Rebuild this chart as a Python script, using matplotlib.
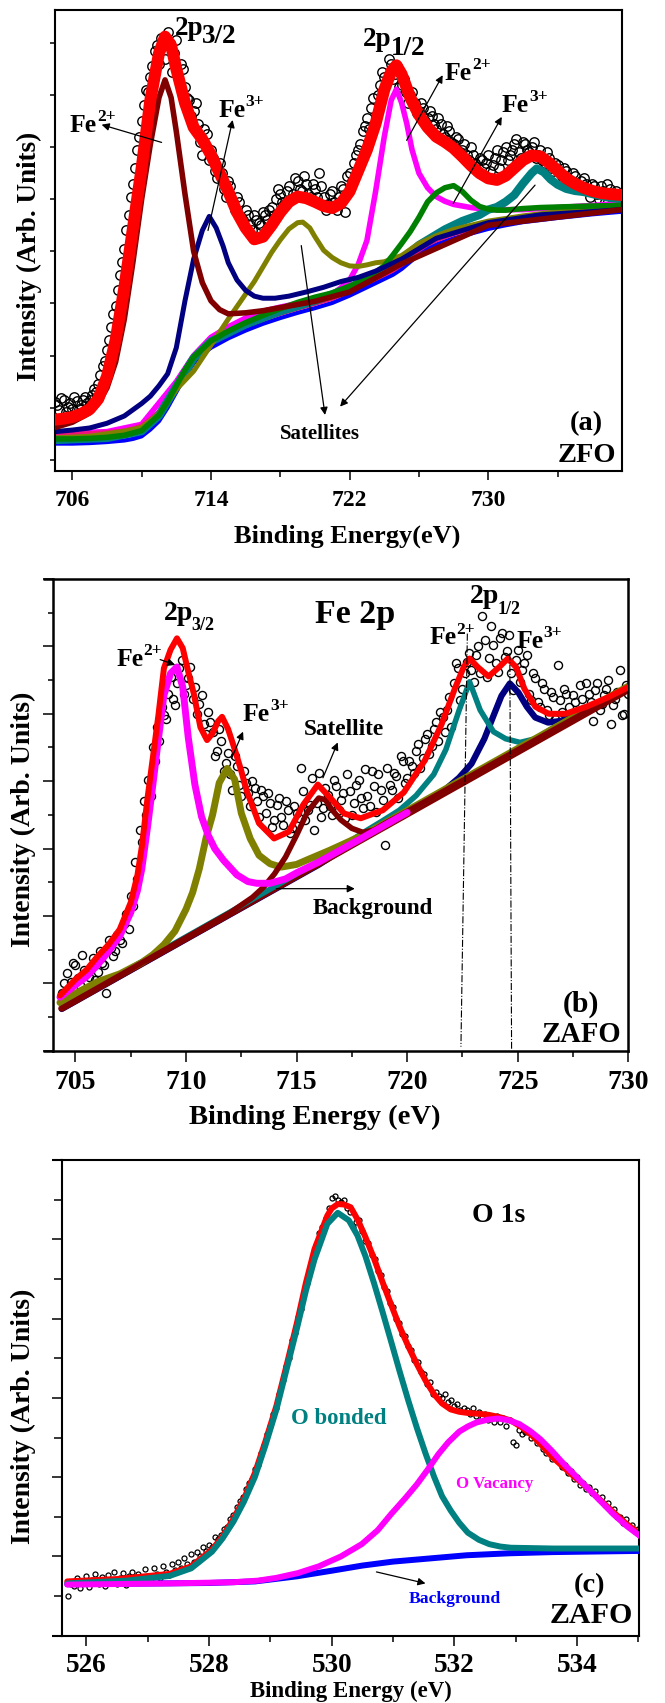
import numpy as np
import matplotlib
matplotlib.use("Agg")
import matplotlib.pyplot as plt

plt.rcParams["font.family"] = ["Liberation Serif", "DejaVu Serif"]
plt.rcParams["font.weight"] = "bold"

RED, MAROON, NAVY, OLIVE = "#ff0000", "#800000", "#000080", "#808000"
MAGENTA, GREEN, TEAL, BLUE, PINK = "#ff00ff", "#008000", "#008080", "#0000ff", "#f0147a"

# ---------------- (a) ZFO, Fe 2p ----------------
# measured points, two interleaved sweeps
a_pts_y = [1.10, 0.95, 1.15, 1.02, 0.98, 1.12, 1.05, 1.20, 1.15, 1.35,
           1.45, 1.80, 2.10, 2.55, 2.95, 3.55, 4.05, 4.70, 5.30, 5.95,
           6.50, 7.10, 7.35, 7.85, 7.60, 7.95, 8.20, 7.45, 8.05, 7.60,
           7.15, 6.90, 6.70, 6.45, 5.85, 6.25, 5.95, 5.55, 5.70, 5.20,
           5.35, 4.95, 5.05, 4.65, 4.80, 4.50, 4.70, 4.55, 4.75, 4.60,
           4.85, 5.00, 5.10, 4.90, 5.25, 5.10, 5.35, 5.15, 5.30, 5.05,
           5.20, 5.50, 5.05, 4.90, 5.15, 4.80, 5.25, 4.75, 5.50, 5.70,
           5.95, 6.30, 6.55, 6.75, 6.60, 7.20, 7.35, 7.70, 7.30, 7.55,
           7.20, 7.05, 7.00, 6.85, 6.70, 6.75, 6.55, 6.60, 6.35, 6.45,
           6.20, 6.30, 6.05, 6.15, 5.95, 5.85, 6.00, 5.70, 5.80, 5.60,
           5.85, 5.65, 5.95, 5.75, 6.00, 5.85, 6.05, 5.90, 6.10, 5.95,
           6.00, 5.80, 5.95, 5.70, 5.80, 5.55, 5.65, 5.45, 5.55, 5.35,
           5.45, 5.25, 5.40, 5.15, 5.30, 5.10, 5.25, 4.95, 5.20, 4.85,
           5.05]
a_pts2_y = [1.05, 1.18, 0.92, 1.08, 1.20, 0.98, 1.15, 1.08, 1.25, 1.30,
            1.62, 1.90, 2.30, 2.80, 3.25, 3.80, 4.40, 5.05, 5.60, 6.20,
            6.80, 7.05, 7.55, 7.95, 8.10, 7.70, 8.00, 7.80, 7.35, 7.50,
            6.95, 6.60, 6.85, 6.10, 6.35, 5.75, 5.80, 5.40, 5.50, 5.05,
            5.25, 4.80, 4.95, 4.60, 4.70, 4.40, 4.60, 4.50, 4.70, 4.80,
            4.70, 5.20, 4.95, 5.15, 5.00, 5.40, 5.20, 5.45, 5.10, 5.30,
            5.05, 5.25, 4.80, 5.10, 4.95, 5.05, 5.20, 5.45, 5.35, 5.85,
            6.05, 6.40, 6.35, 6.95, 7.00, 7.45, 7.25, 7.60, 7.40, 7.15,
            7.30, 6.85, 7.05, 6.65, 6.85, 6.50, 6.70, 6.45, 6.55, 6.25,
            6.40, 6.10, 6.20, 5.90, 6.05, 5.75, 5.85, 5.55, 5.75, 5.70,
            5.55, 5.80, 5.60, 5.90, 5.75, 5.95, 6.15, 5.80, 6.05, 5.90,
            6.10, 5.85, 5.75, 5.90, 5.60, 5.70, 5.50, 5.60, 5.30, 5.50,
            5.20, 5.35, 5.30, 5.05, 5.25, 5.00, 5.15, 5.30, 4.90, 5.15]

a_fit_x = [705, 705.5, 706, 706.5, 707, 707.5, 708, 708.5, 709, 709.5, 710, 710.5, 711,
           711.35, 711.7, 712, 712.5, 713, 713.5, 714, 714.5, 715, 715.5, 716, 716.5,
           717, 717.5, 718, 718.5, 719, 719.5, 720, 720.5, 721, 721.5, 722, 722.5,
           723, 723.5, 724, 724.4, 724.7, 725, 725.5, 726, 726.5, 727, 727.5, 728,
           728.5, 729, 729.5, 730, 730.5, 731, 731.5, 732, 732.5, 733, 733.5, 734,
           734.5, 735, 735.5, 736, 736.5, 737, 737.7]
a_fit_y = [0.77, 0.79, 0.82, 0.88, 0.97, 1.17, 1.60, 2.30, 3.30, 4.45, 5.60, 6.90, 7.80,
           8.12, 7.95, 7.50, 6.85, 6.38, 6.15, 5.85, 5.50, 5.15, 4.75, 4.45, 4.23,
           4.28, 4.50, 4.75, 4.95, 5.05, 5.02, 4.95, 4.87, 4.83, 4.92, 5.15, 5.55,
           5.95, 6.45, 7.10, 7.45, 7.57, 7.40, 6.95, 6.62, 6.38, 6.20, 6.10, 5.98,
           5.82, 5.65, 5.50, 5.40, 5.37, 5.45, 5.60, 5.75, 5.84, 5.82, 5.70, 5.55,
           5.40, 5.30, 5.22, 5.16, 5.12, 5.10, 5.08]

a_bg_x = [705, 706, 707, 708, 709, 709.5, 710, 710.5, 711, 711.5, 712, 712.5, 713, 713.5,
          714, 715, 716, 717, 718, 719, 720, 721, 722, 723, 724, 724.5, 725, 725.5,
          726, 726.5, 727, 728, 729, 730, 731, 732, 734, 736, 737.7]
a_bg_y = [0.31, 0.31, 0.32, 0.34, 0.37, 0.40, 0.45, 0.58, 0.74, 1.00, 1.30, 1.60, 1.85, 2.02,
          2.15, 2.33, 2.48, 2.61, 2.72, 2.82, 2.91, 3.01, 3.15, 3.31, 3.47, 3.55, 3.66, 3.80,
          3.94, 4.05, 4.13, 4.25, 4.34, 4.43, 4.50, 4.56, 4.64, 4.71, 4.76]
a_pink_y = [0.50, 0.50, 0.51, 0.53, 0.56, 0.60, 0.66, 0.78, 0.93, 1.17, 1.45, 1.74, 1.98, 2.14,
            2.26, 2.43, 2.57, 2.69, 2.80, 2.90, 2.99, 3.09, 3.23, 3.39, 3.55, 3.63, 3.74, 3.88,
            4.02, 4.13, 4.21, 4.33, 4.42, 4.51, 4.58, 4.64, 4.72, 4.79, 4.84]

a_green_x = [705, 706, 707, 708, 709, 710, 711, 711.5, 712, 712.5, 713, 714, 715, 716, 717,
             718, 719, 720, 721, 722, 722.5, 723, 723.5, 724, 724.5, 725, 725.5, 726, 726.5,
             727, 727.5, 728, 728.5, 729, 729.5, 730, 730.5, 731, 732, 733, 734, 735, 736, 737.7]
a_green_y = [0.40, 0.40, 0.41, 0.43, 0.47, 0.56, 0.86, 1.12, 1.42, 1.72, 1.97, 2.28, 2.47, 2.63,
             2.77, 2.90, 3.02, 3.12, 3.20, 3.33, 3.40, 3.50, 3.60, 3.72, 3.93, 4.15, 4.38, 4.65,
             4.95, 5.12, 5.22, 5.26, 5.15, 4.98, 4.86, 4.81, 4.79, 4.79, 4.82, 4.84, 4.85, 4.86,
             4.87, 4.88]

a_teal_x = [705, 708, 710, 711, 712, 713, 714, 716, 718, 720, 722, 724, 725, 726, 727, 727.5,
            728, 728.5, 729, 729.5, 730, 730.5, 731, 731.5, 732, 732.5, 732.8, 733.2, 733.6,
            734, 734.5, 735, 735.5, 736, 737, 737.7]
a_teal_y = [0.38, 0.42, 0.55, 0.85, 1.40, 1.95, 2.27, 2.60, 2.85, 3.05, 3.30, 3.65, 3.85, 4.12,
            4.32, 4.42, 4.50, 4.58, 4.64, 4.70, 4.80, 4.85, 4.95, 5.08, 5.30, 5.50, 5.59, 5.52,
            5.38, 5.28, 5.20, 5.16, 5.14, 5.10, 5.03, 5.00]

a_olive_x = [705, 707, 709, 710, 711, 712, 713, 714, 715, 716, 716.5, 717, 717.5, 718, 718.5,
             719, 719.3, 719.7, 720, 720.5, 721, 721.5, 722, 722.5, 723, 723.5, 724, 725, 726,
             727, 728, 730, 732, 734, 736, 737.7]
a_olive_y = [0.42, 0.45, 0.55, 0.62, 0.88, 1.35, 1.70, 2.20, 2.70, 3.18, 3.42, 3.70, 3.98, 4.22,
             4.43, 4.55, 4.56, 4.45, 4.28, 4.02, 3.88, 3.78, 3.72, 3.71, 3.74, 3.78, 3.80, 3.92,
             4.15, 4.30, 4.42, 4.58, 4.68, 4.76, 4.82, 4.86]

a_navy_x = [705, 706, 707, 708, 709, 710, 710.5, 711, 711.5, 712, 712.5, 713, 713.5, 713.9,
            714.3, 714.7, 715, 715.5, 716, 716.5, 717, 717.7, 718.5, 719.5, 720.5, 721.5,
            722.5, 723.5, 725, 727, 730, 733, 737.7]
a_navy_y = [0.54, 0.57, 0.61, 0.70, 0.84, 1.08, 1.22, 1.42, 1.65, 2.15, 3.05, 3.85, 4.40, 4.67,
            4.45, 4.10, 3.78, 3.45, 3.25, 3.14, 3.10, 3.10, 3.14, 3.22, 3.31, 3.42, 3.50, 3.62,
            3.85, 4.25, 4.55, 4.70, 4.80]

a_brown_x = [705, 706, 707, 707.5, 708, 708.5, 709, 709.5, 710, 710.5, 711, 711.35, 711.7,
             712, 712.5, 713, 713.5, 714, 714.5, 715, 716, 717, 718, 720, 722, 725, 730, 737.7]
a_brown_y = [0.62, 0.72, 0.90, 1.08, 1.38, 1.88, 2.70, 3.80, 5.00, 6.05, 6.95, 7.29, 6.95,
             6.30, 5.10, 4.00, 3.40, 3.05, 2.88, 2.80, 2.82, 2.86, 2.92, 3.04, 3.22, 3.76,
             4.50, 4.80]

a_mag_x = [705, 708, 710, 712, 713, 714, 715, 716, 717, 718, 719, 720, 720.5, 721, 721.5, 722,
           722.5, 723, 723.5, 724, 724.4, 724.7, 725, 725.3, 725.6, 726, 726.5, 727, 727.5,
           728, 729, 730, 732, 734, 736, 737.7]
a_mag_y = [0.50, 0.54, 0.68, 1.50, 2.00, 2.35, 2.55, 2.72, 2.85, 2.93, 3.00, 3.08, 3.13, 3.18,
           3.30, 3.45, 3.75, 4.21, 5.15, 6.20, 6.90, 7.11, 6.85, 6.45, 5.95, 5.50, 5.22, 5.05,
           4.96, 4.90, 4.84, 4.80, 4.80, 4.84, 4.88, 4.92]

# ---------------- (b) ZAFO, Fe 2p ----------------
b_pts_y = [1.70, 2.30, 2.05, 2.55, 1.95, 2.40, 2.20, 2.75, 2.35, 2.60,
           1.70, 3.05, 2.95, 3.30, 3.75, 3.60, 4.30, 5.10, 6.20, 7.00,
           7.55, 8.60, 9.20, 9.95, 10.60, 10.45, 10.90, 11.60, 10.85, 11.40,
           10.80, 10.30, 9.70, 10.05, 9.45, 8.90, 9.20, 8.55, 8.20, 8.75,
           7.90, 8.30, 7.65, 8.00, 7.40, 7.75, 7.05, 7.35, 6.85, 7.50,
           6.70, 7.15, 6.60, 7.05, 8.40, 6.85, 7.30, 6.55, 8.25, 7.20,
           7.60, 7.00, 7.85, 7.45, 6.90, 7.70, 7.35, 8.05, 7.20, 7.55,
           8.30, 7.10, 7.75, 6.10, 7.90, 8.25, 7.50, 8.60, 8.10, 8.45,
           8.90, 8.40, 9.25, 8.80, 9.55, 9.20, 9.90, 10.10, 9.60, 11.50,
           10.40, 11.20, 11.80, 10.95, 12.00, 12.90, 11.10, 12.60, 11.50, 12.25,
           11.70, 12.35, 10.70, 11.90, 11.30, 11.75, 10.40, 11.05, 10.20, 10.75,
           9.95, 10.50, 11.45, 10.05, 10.60, 9.90, 10.35, 10.85, 10.15, 10.60,
           9.80, 10.90, 10.30, 10.75, 9.70, 10.45, 11.30, 10.00, 10.60]
b_pts2_y = [2.00, 1.85, 2.60, 2.15, 2.85, 2.30, 2.50, 2.10, 2.95, 2.55,
            3.30, 2.80, 3.45, 3.20, 4.05, 4.60, 5.60, 6.55, 7.40, 8.05,
            9.00, 9.60, 10.20, 9.85, 11.10, 10.25, 11.35, 10.60, 11.05, 10.45,
            10.00, 10.55, 9.40, 9.75, 8.75, 9.55, 8.30, 8.85, 7.75, 8.45,
            7.55, 7.95, 7.25, 7.80, 6.95, 7.55, 7.65, 6.65, 7.30, 6.95,
            7.40, 6.45, 7.25, 6.90, 7.70, 7.15, 8.10, 7.35, 6.95, 7.80,
            7.25, 8.05, 7.15, 7.65, 8.20, 7.00, 7.90, 7.50, 8.35, 7.25,
            7.85, 8.20, 7.45, 8.40, 7.75, 8.15, 8.75, 7.95, 8.60, 8.25,
            9.10, 8.70, 9.40, 9.05, 9.75, 10.05, 9.45, 10.50, 10.90, 11.35,
            10.75, 11.55, 11.30, 11.75, 11.20, 12.20, 11.65, 12.05, 11.25, 12.40,
            11.85, 11.20, 11.60, 10.95, 11.50, 10.60, 11.20, 10.35, 10.90, 10.10,
            10.65, 9.85, 10.40, 10.75, 10.20, 10.55, 9.95, 10.45, 10.90, 10.35,
            10.70, 10.10, 10.55, 11.00, 10.25, 10.65, 9.95, 10.85]

b_fit_x = [704.3, 705.0, 705.5, 706.0, 706.5, 707.0, 707.5, 707.8, 708.0, 708.25, 708.5,
           708.75, 709.0, 709.3, 709.59, 709.85, 710.1, 710.35, 710.65, 710.95, 711.2,
           711.45, 711.63, 711.9, 712.2, 712.5, 712.75, 713.3, 713.98, 714.65, 715.3,
           715.96, 716.6, 717.15, 717.9, 718.9, 719.85, 720.8, 721.55, 722.15, 722.55,
           722.82, 723.2, 723.68, 724.15, 724.55, 724.93, 725.3, 725.8, 726.4, 727.15,
           728.1, 729.05, 730.0]
b_fit_y = [1.64, 2.12, 2.40, 2.80, 3.15, 3.60, 4.40, 5.20, 6.05, 7.45, 8.70,
           9.95, 11.35, 11.90, 12.24, 11.95, 11.25, 10.60, 9.60, 9.22, 9.42,
           9.78, 9.91, 9.55, 8.95, 8.30, 7.70, 6.75, 6.30, 6.50, 7.30,
           7.90, 7.45, 7.04, 6.90, 7.14, 7.67, 8.62, 9.68, 10.74, 11.38,
           11.64, 11.38, 11.11, 11.38, 11.64, 11.38, 10.74, 10.21, 10.00, 10.00,
           10.21, 10.48, 10.79]

b_bg_x = [704.38, 730.0]
b_bg_y = [1.26, 10.72]

b_mag_x = [704.3, 705.0, 705.5, 706.0, 706.5, 707.0, 707.5, 707.8, 708.0, 708.25, 708.5,
           708.75, 709.0, 709.3, 709.59, 709.85, 710.1, 710.4, 710.7, 711.0, 711.3, 711.7,
           712.3, 712.8, 713.2, 713.8, 714.5, 715.0, 716.0, 718.0, 720.0]
b_mag_y = [1.59, 1.95, 2.20, 2.55, 2.95, 3.40, 4.10, 4.75, 5.40, 6.60, 7.90,
           9.25, 10.55, 11.20, 11.39, 10.80, 9.30, 7.90, 6.95, 6.40, 6.00, 5.65,
           5.22, 5.02, 4.97, 4.97, 5.10, 5.28, 5.60, 6.33, 7.07]

b_olive_x = [704.3, 705, 706, 707, 708, 708.5, 709, 709.5, 710, 710.3, 710.6, 710.9, 711.2,
             711.5, 711.86, 712.2, 712.5, 712.9, 713.3, 713.8, 714.3, 715, 715.6, 716.5, 718,
             720, 722, 725, 730]
b_olive_y = [1.43, 1.70, 2.05, 2.28, 2.62, 2.85, 3.15, 3.55, 4.20, 4.70, 5.40, 6.30, 7.00,
             7.95, 8.38, 8.05, 7.05, 6.30, 5.80, 5.55, 5.45, 5.53, 5.70, 5.95, 6.40,
             7.13, 7.87, 8.97, 10.82]

b_sat_x = [704.38, 712.0, 713.0, 713.5, 714.0, 714.5, 715.0, 715.5, 716.0, 716.3, 716.6,
           717.0, 717.5, 718.0, 718.5, 719.0, 720.0, 725.0, 730.0]
b_sat_y = [1.26, 4.10, 4.55, 4.85, 5.25, 5.75, 6.40, 7.10, 7.50, 7.45, 7.15,
           6.85, 6.60, 6.48, 6.55, 6.75, 7.10, 8.93, 10.76]

b_teal_x = [704.38, 712, 716, 718.1, 718.9, 719.65, 720.4, 721.2, 721.75, 722.35, 722.82,
            723.3, 723.9, 724.45, 725.1, 725.8, 726.6, 728, 730]
b_teal_y = [1.30, 4.12, 5.62, 6.51, 6.83, 7.14, 7.57, 8.20, 8.94, 10.11, 10.95,
            10.11, 9.47, 9.26, 9.15, 9.26, 9.58, 10.05, 10.80]

b_navy_x = [704.38, 712, 716, 718.88, 719.84, 720.8, 721.57, 722.34, 722.91, 723.49, 723.87,
            724.26, 724.64, 725.03, 725.41, 725.79, 726.37, 726.95, 727.71, 728.87, 730.0]
b_navy_y = [1.24, 4.05, 5.52, 6.72, 6.98, 7.35, 7.67, 8.10, 8.52, 9.26, 9.89,
            10.53, 10.90, 10.63, 10.21, 9.89, 9.74, 9.79, 10.00, 10.37, 10.74]

# peak position guides for Fe2+ / Fe3+ 2p1/2
b_guides = [((722.72, 12.38), (722.43, 0.12)), ((724.64, 11.80), (724.72, 0.06))]

# ---------------- (c) ZAFO, O 1s ----------------
c_pts_y = [1.00, 1.30, 1.25, 1.45, 1.20, 1.35, 1.50, 1.22, 1.40, 1.55,
           1.30, 1.48, 1.25, 1.52, 1.38, 1.60, 1.30, 1.45, 1.58, 1.28,
           1.50, 1.62, 1.40, 1.55, 1.35, 1.68, 1.50, 1.42, 1.70, 1.55,
           1.45, 1.75, 1.60, 1.52, 1.80, 1.65, 1.85, 1.72, 1.95, 1.80,
           2.05, 1.85, 2.10, 2.00, 2.25, 2.15, 2.30, 2.25, 2.50, 2.45,
           2.55, 2.70, 2.75, 2.95, 3.05, 3.25, 3.40, 3.50, 3.70, 3.85,
           3.95, 4.20, 4.30, 4.60, 4.80, 5.10, 5.30, 5.60, 5.75, 6.10,
           6.45, 6.80, 7.00, 7.45, 7.65, 8.05, 8.25, 8.65, 8.90, 9.25,
           9.55, 9.85, 10.15, 10.30, 10.55, 10.80, 11.05, 11.10, 11.00, 10.95,
           11.00, 10.80, 10.70, 10.30, 10.45, 10.50, 10.20, 9.95, 9.90, 9.60,
           9.50, 9.20, 9.10, 8.80, 8.70, 8.40, 8.30, 8.00, 7.90, 7.60,
           7.55, 7.30, 7.20, 6.95, 6.90, 6.65, 6.60, 6.35, 6.40, 6.10,
           6.15, 6.05, 6.00, 6.10, 5.90, 5.95, 5.80, 5.85, 5.70, 5.75,
           5.70, 5.60, 5.75, 5.55, 5.65, 5.50, 5.60, 5.45, 5.55, 5.40,
           5.55, 5.40, 5.50, 5.30, 5.45, 4.90, 4.80, 5.20, 5.10, 5.15,
           5.15, 5.00, 5.05, 4.85, 4.90, 4.70, 4.60, 4.65, 4.45, 4.50,
           4.40, 4.25, 4.30, 4.10, 4.15, 3.95, 4.00, 3.80, 3.85, 3.70,
           3.75, 3.60, 3.65, 3.45, 3.50, 3.30, 3.35, 3.15, 3.20, 3.00,
           3.00, 2.85, 2.95, 2.75, 2.80, 2.65, 2.70]

c_fit_x = [525.69, 526.5, 527.36, 527.71, 528.05, 528.22, 528.4, 528.57, 528.75, 528.92,
           529.1, 529.27, 529.44, 529.58, 529.72, 529.93, 530.0, 530.1, 530.2, 530.31,
           530.43, 530.55, 530.69, 530.83, 530.97, 531.11, 531.25, 531.39, 531.53, 531.67,
           531.8, 531.94, 532.08, 532.22, 532.4, 532.57, 532.75, 532.92, 533.1, 533.27,
           533.44, 533.61, 533.89, 534.17, 534.38, 534.59, 534.8, 535.04]
c_fit_y = [1.37, 1.43, 1.56, 1.75, 2.17, 2.50, 2.95, 3.45, 4.11, 4.90,
           5.80, 6.85, 7.93, 8.90, 9.75, 10.60, 10.78, 10.89, 10.88, 10.81,
           10.48, 10.06, 9.52, 8.92, 8.35, 7.79, 7.30, 6.85, 6.44, 6.09,
           5.86, 5.71, 5.65, 5.62, 5.60, 5.57, 5.51, 5.43, 5.26, 5.05,
           4.78, 4.49, 4.10, 3.73, 3.42, 3.12, 2.83, 2.55]

c_bg_x = [525.69, 528.0, 528.75, 529.44, 530.0, 530.5, 531.0, 531.6, 532.2, 532.9, 533.6, 535.04]
c_bg_y = [1.30, 1.33, 1.37, 1.50, 1.64, 1.77, 1.87, 1.95, 2.03, 2.08, 2.11, 2.14]

c_bond_x = [525.69, 526.66, 527.36, 527.71, 528.05, 528.22, 528.4, 528.57, 528.75, 528.92,
            529.1, 529.27, 529.44, 529.58, 529.72, 529.93, 530.1, 530.28, 530.42, 530.55,
            530.69, 530.83, 530.97, 531.11, 531.25, 531.39, 531.53, 531.67, 531.8, 531.94,
            532.08, 532.22, 532.4, 532.57, 532.75, 532.92, 533.61, 535.04]
c_bond_y = [1.32, 1.39, 1.51, 1.70, 2.12, 2.45, 2.88, 3.38, 4.01, 4.80,
            5.71, 6.75, 7.79, 8.70, 9.49, 10.39, 10.67, 10.48, 10.10, 9.58,
            8.90, 8.17, 7.42, 6.66, 5.93, 5.24, 4.60, 4.01, 3.52, 3.16,
            2.85, 2.60, 2.42, 2.31, 2.25, 2.22, 2.20, 2.20]

c_vac_x = [525.69, 527.36, 528.4, 528.8, 529.1, 529.45, 529.79, 530.15, 530.49, 530.75,
           530.97, 531.2, 531.39, 531.57, 531.74, 531.9, 532.08, 532.22, 532.36, 532.54,
           532.71, 532.88, 533.06, 533.23, 533.4, 533.58, 533.75, 533.96, 534.17, 534.38,
           534.59, 534.8, 535.04]
c_vac_y = [1.29, 1.32, 1.35, 1.39, 1.46, 1.58, 1.75, 2.00, 2.31, 2.66,
           3.07, 3.47, 3.82, 4.20, 4.58, 4.88, 5.15, 5.28, 5.38, 5.45,
           5.48, 5.44, 5.34, 5.17, 4.96, 4.68, 4.39, 4.06, 3.73, 3.40,
           3.07, 2.78, 2.50]


def line(ax, x, y, color, lw, z):
    ax.plot(x, y, color=color, lw=lw, solid_capstyle="round",
            solid_joinstyle="round", zorder=z)


def arrow(ax, tail, head):
    ax.annotate("", xy=head, xytext=tail,
                arrowprops=dict(arrowstyle="-|>", color="black", lw=0.9,
                                mutation_scale=11, shrinkA=0, shrinkB=0),
                zorder=10)


def ion(ax, x, y, charge, size=18.5):
    # "Fe" with a raised charge label
    ax.text(x, y, "Fe", fontsize=size, fontweight="bold", va="baseline", zorder=12)
    ax.annotate(charge, xy=(x, y), xytext=(1.07 * size, 0.42 * size),
                textcoords="offset points", fontsize=0.68 * size, fontweight="bold",
                ha="left", va="baseline", zorder=12)


def frame(ax, spine_lw=1.5):
    for s in ax.spines.values():
        s.set_linewidth(spine_lw)
    ax.tick_params(which="both", direction="out", top=False, right=False,
                   width=1.1, labelleft=False)


def ylab(ax, x, y, size):
    ax.text(x, y, "Intensity (Arb. Units)", transform=ax.transAxes, rotation=90,
            ha="center", va="center", fontsize=size, fontweight="bold")


def xlab(ax, x, y, text, size):
    ax.text(x, y, text, transform=ax.transAxes, ha="center", va="baseline",
            fontsize=size, fontweight="bold")


def stub(ax, frac, lw):
    # short extensions of the top/bottom frame lines past the left spine
    for yy in (0, 1):
        ax.plot([-frac, 0], [yy, yy], transform=ax.transAxes, color="black",
                lw=lw, clip_on=False, solid_capstyle="butt", zorder=20)


fig = plt.figure(figsize=(6.65, 17.03), dpi=100)

# ---------------- panel (a) ----------------
ax = fig.add_axes([0.0827, 0.7236, 0.8522, 0.2705])
a_pts_x = np.linspace(705.0, 737.5, len(a_pts_y))
a_pts2_x = np.linspace(705.125, 737.375, len(a_pts2_y))
for px, py in ((a_pts_x, a_pts_y), (a_pts2_x, a_pts2_y)):
    ax.plot(px, py, "o", ms=6.8, mfc="none", mec="black", mew=1.0, zorder=1)
line(ax, a_bg_x, a_bg_y, BLUE, 3.0, 2)
line(ax, a_mag_x, a_mag_y, MAGENTA, 4.0, 2.05)
line(ax, a_bg_x, a_pink_y, PINK, 3.0, 2.1)
line(ax, a_teal_x, a_teal_y, TEAL, 6.0, 2.2)
line(ax, a_olive_x, a_olive_y, OLIVE, 3.6, 2.3)
line(ax, a_green_x, a_green_y, GREEN, 4.0, 2.4)
line(ax, a_navy_x, a_navy_y, NAVY, 3.6, 2.5)
line(ax, a_brown_x, a_brown_y, MAROON, 4.0, 2.6)
line(ax, a_fit_x, a_fit_y, RED, 8.6, 5)
ax.set_xlim(705.0, 737.7)
ax.set_ylim(-0.21, 8.63)
ax.set_xticks([706, 714, 722, 730])
ax.set_xticks([710, 718, 726, 734], minor=True)
ax.set_yticks(range(0, 9))
frame(ax, 1.5)
ax.tick_params(axis="x", which="major", length=6.7, labelsize=17, pad=7)
ax.tick_params(axis="x", which="minor", length=4.2)
ax.tick_params(axis="y", which="major", length=3.6)
ylab(ax, -0.045, 0.466, 19.5)
xlab(ax, 0.516, -0.157, "Binding Energy(eV)", 19)

ax.text(711.92, 8.15, "2p", fontsize=19.5, fontweight="bold", va="baseline", zorder=12)
ax.text(713.50, 7.99, "3/2", fontsize=19.5, fontweight="bold", va="baseline", zorder=12)
ax.text(722.77, 7.94, "2p", fontsize=19.5, fontweight="bold", va="baseline", zorder=12)
ax.text(724.40, 7.77, "1/2", fontsize=19.5, fontweight="bold", va="baseline", zorder=12)
ion(ax, 705.86, 6.29, "2+")
arrow(ax, (711.15, 6.09), (707.69, 6.43))
ion(ax, 714.41, 6.58, "3+")
arrow(ax, (713.83, 4.40), (715.25, 6.52))
ion(ax, 727.50, 7.29, "2+")
arrow(ax, (725.29, 6.13), (727.37, 7.38))
ion(ax, 730.78, 6.68, "3+")
arrow(ax, (727.98, 4.92), (730.78, 6.58))
ax.text(717.98, 0.39, "Satellites", fontsize=15, fontweight="bold", va="baseline")
arrow(ax, (719.21, 4.11), (720.58, 0.86))
arrow(ax, (732.70, 5.27), (721.45, 1.02))
ax.text(735.68, 0.57, "(a)", fontsize=20.5, fontweight="bold", ha="center", va="baseline")
ax.text(737.37, -0.04, "ZFO", fontsize=20.5, fontweight="bold", ha="right", va="baseline")

# ---------------- panel (b) ----------------
ax = fig.add_axes([0.0802, 0.3830, 0.8647, 0.2770])
b_pts_x = np.linspace(704.4, 730.0, len(b_pts_y))
b_pts2_x = np.linspace(704.5, 729.9, len(b_pts2_y))
for px, py in ((b_pts_x, b_pts_y), (b_pts2_x, b_pts2_y)):
    ax.plot(px, py, "o", ms=5.8, mfc="none", mec="black", mew=1.0, zorder=1)
line(ax, b_navy_x, b_navy_y, NAVY, 4.5, 2)
line(ax, b_bg_x, b_bg_y, MAROON, 5.0, 2.1)
line(ax, b_teal_x, b_teal_y, TEAL, 4.0, 2.2)
line(ax, b_olive_x, b_olive_y, OLIVE, 5.0, 2.3)
line(ax, b_sat_x, b_sat_y, MAROON, 4.0, 2.4)
line(ax, b_mag_x, b_mag_y, MAGENTA, 5.0, 2.5)
line(ax, b_fit_x, b_fit_y, RED, 4.3, 5)
for top, bottom in b_guides:
    ax.plot([top[0], bottom[0]], [top[1], bottom[1]], color="black", lw=0.8,
            ls="-.", zorder=6)
ax.set_xlim(704.0, 730.0)
ax.set_ylim(0, 14)
ax.set_xticks([705, 710, 715, 720, 725, 730])
ax.set_xticks([707.5, 712.5, 717.5, 722.5, 727.5], minor=True)
ax.set_yticks(range(0, 15, 2))
ax.set_yticks(range(1, 15, 2), minor=True)
frame(ax, 1.8)
ax.tick_params(axis="x", which="major", length=8, labelsize=20, pad=6)
ax.tick_params(axis="x", which="minor", length=4.5)
ax.tick_params(axis="y", which="major", length=7.2)
ax.tick_params(axis="y", which="minor", length=3.6)
stub(ax, 0.0174, 1.8)
ylab(ax, -0.052, 0.49, 20)
xlab(ax, 0.455, -0.155, "Binding Energy (eV)", 20.5)

ax.text(715.81, 12.69, "Fe 2p", fontsize=24.5, fontweight="bold", va="baseline")
ax.text(708.98, 12.78, "2p", fontsize=20, fontweight="bold", va="baseline")
ax.text(710.22, 12.48, "3/2", fontsize=13, fontweight="bold", va="baseline")
ax.text(722.82, 13.28, "2p", fontsize=20, fontweight="bold", va="baseline")
ax.text(724.10, 12.95, "1/2", fontsize=13, fontweight="bold", va="baseline")
ion(ax, 706.84, 11.42, "2+")
arrow(ax, (708.83, 11.61), (709.51, 11.45))
ion(ax, 712.55, 9.79, "3+")
arrow(ax, (712.06, 8.68), (712.58, 9.47))
ax.text(715.33, 9.37, "Satellite", fontsize=16.8, fontweight="bold", va="baseline")
arrow(ax, (716.19, 8.10), (716.86, 9.15))
ax.text(715.71, 4.07, "Background", fontsize=16.5, fontweight="bold", va="baseline")
arrow(ax, (714.08, 4.81), (717.63, 4.81))
ion(ax, 720.99, 12.06, "2+")
ion(ax, 724.93, 11.96, "3+")
ax.text(727.86, 1.16, "(b)", fontsize=21.5, fontweight="bold", ha="center", va="baseline")
ax.text(729.68, 0.27, "ZAFO", fontsize=20.7, fontweight="bold", ha="right", va="baseline")

# ---------------- panel (c) ----------------
ax = fig.add_axes([0.0928, 0.0395, 0.8681, 0.2793])
c_pts_x = np.linspace(525.7, 535.0, len(c_pts_y))
ax.plot(c_pts_x, c_pts_y, "o", ms=3.6, mfc="none", mec="black", mew=0.9, zorder=1)
line(ax, c_fit_x, c_fit_y, RED, 4.3, 2)
line(ax, c_bg_x, c_bg_y, BLUE, 4.3, 3)
line(ax, c_bond_x, c_bond_y, TEAL, 4.3, 4)
line(ax, c_vac_x, c_vac_y, MAGENTA, 4.3, 5)
ax.set_xlim(525.6, 535.01)
ax.set_ylim(0, 12)
ax.set_xticks([526, 528, 530, 532, 534])
ax.set_xticks([527, 529, 531, 533, 535], minor=True)
ax.set_yticks(range(2, 12, 2))
ax.set_yticks(range(1, 12, 2), minor=True)
frame(ax, 1.5)
ax.tick_params(axis="x", which="major", length=7.2, labelsize=19.5, pad=5)
ax.tick_params(axis="x", which="minor", length=4)
ax.tick_params(axis="y", which="major", length=7.2)
ax.tick_params(axis="y", which="minor", length=5.5)
stub(ax, 0.0166, 1.5)
ylab(ax, -0.066, 0.462, 20)
xlab(ax, 0.501, -0.128, "Binding Energy (eV)", 16.5)

ax.text(532.29, 10.43, "O 1s", fontsize=20, fontweight="bold", va="baseline")
ax.text(529.34, 5.35, "O bonded", fontsize=16.4, fontweight="bold", color=TEAL, va="baseline")
ax.text(532.03, 3.73, "O Vacancy", fontsize=12.1, fontweight="bold", color=MAGENTA,
        va="baseline")
ax.text(531.25, 0.82, "Background", fontsize=12.6, fontweight="bold", color=BLUE,
        va="baseline")
arrow(ax, (530.73, 1.61), (531.53, 1.32))
ax.text(534.21, 1.11, "(c)", fontsize=20.5, fontweight="bold", ha="center", va="baseline")
ax.text(534.92, 0.33, "ZAFO", fontsize=21.6, fontweight="bold", ha="right", va="baseline")

fig.savefig("out.png", dpi=100)
